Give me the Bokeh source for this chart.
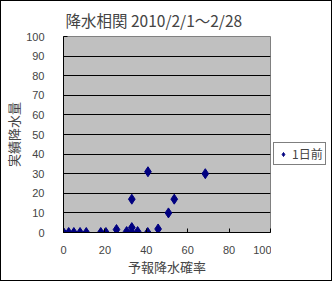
from bokeh.plotting import figure
from bokeh.layouts import row
from bokeh.models import Range1d, FixedTicker, Legend, LegendItem
from bokeh.embed import file_html
from bokeh.resources import INLINE

title_text = "降水相関 2010/2/1～2/28"
x_label = "予報降水確率"
y_label = "実績降水量"
series_name = "1日前"

prob = [0, 2.5, 5, 8, 11, 18, 20.5, 25.6, 30.5, 33, 33, 35.8, 40.7, 45.7, 50.7, 53.5, 33, 40.8, 68.5]
rain = [0, 0, 0, 0, 0, 0, 0, 1.5, 0.5, 2.5, 0, 0.5, 0, 1.8, 10, 17, 17, 31, 30]

x_ticks = [0, 20, 40, 60, 80, 100]
y_ticks = [0, 10, 20, 30, 40, 50, 60, 70, 80, 90, 100]

JP = "Noto Sans CJK JP"
NUM = "Liberation Sans"
MARK = "#000080"

p = figure(width=270, height=279, output_backend="svg", toolbar_location=None,
           x_range=Range1d(0, 100), y_range=Range1d(0, 100),
           min_border_left=62, min_border_right=1, min_border_top=33, min_border_bottom=48)

p.background_fill_color = "#C0C0C0"
p.border_fill_color = "white"
p.outline_line_color = "#808080"
p.outline_line_width = 1

p.title.text = title_text
p.title.text_font = JP
p.title.text_font_size = "15.5px"
p.title.text_font_style = "normal"
p.title.align = "left"
p.title.offset = 2
p.title.standoff = 11

p.xgrid.visible = False
p.ygrid.ticker = FixedTicker(ticks=y_ticks)
p.ygrid.grid_line_color = "black"
p.ygrid.grid_line_width = 1

xa = p.xaxis[0]
xa.ticker = FixedTicker(ticks=x_ticks)
xa.axis_label = x_label
xa.axis_label_text_font = JP
xa.axis_label_text_font_size = "13px"
xa.axis_label_text_font_style = "normal"
xa.axis_label_standoff = 0
xa.major_label_text_font = NUM
xa.major_label_text_font_size = "11px"
xa.major_label_standoff = 13
xa.major_tick_in = 4
xa.major_tick_out = 0
xa.minor_tick_line_color = None
xa.axis_line_color = "black"
xa.major_tick_line_color = "black"

ya = p.yaxis[0]
ya.ticker = FixedTicker(ticks=y_ticks)
ya.axis_label = y_label
ya.axis_label_text_font = JP
ya.axis_label_text_font_size = "13px"
ya.axis_label_text_font_style = "normal"
ya.axis_label_standoff = 0
ya.major_label_text_font = NUM
ya.major_label_text_font_size = "11px"
ya.major_label_standoff = 19
ya.major_tick_in = 4
ya.major_tick_out = 0
ya.minor_tick_line_color = None
ya.axis_line_color = "black"
ya.major_tick_line_color = "black"

p.scatter(prob, rain, marker="diamond", size=10, fill_color=MARK, line_color=MARK)

# legend panel (same series, its data lies outside this panel's view)
q = figure(width=60, height=279, output_backend="svg", toolbar_location=None,
           x_range=Range1d(1000, 1001), y_range=Range1d(1000, 1001),
           x_axis_type=None, y_axis_type=None,
           min_border_left=0, min_border_right=0, min_border_top=0, min_border_bottom=0)
q.outline_line_color = None
q.xgrid.visible = False
q.ygrid.visible = False
q.background_fill_color = "white"
q.border_fill_color = "white"
rl = q.scatter(prob, rain, marker="diamond", size=10, fill_color=MARK, line_color=MARK)

legend = Legend(items=[LegendItem(label=series_name, renderers=[rl])], location=(2, 67))
legend.border_line_color = "black"
legend.border_line_width = 1
legend.background_fill_color = "white"
legend.background_fill_alpha = 1
legend.padding = 2
legend.margin = 0
legend.spacing = 0
legend.glyph_width = 14
legend.glyph_height = 10
legend.label_height = 10
legend.label_standoff = 2
legend.label_text_font = JP
legend.label_text_font_size = "12px"
q.add_layout(legend, "center")

layout = row(p, q)
layout.styles = {"border": "1px solid black"}

open("out.html", "w").write(file_html(layout, INLINE))
